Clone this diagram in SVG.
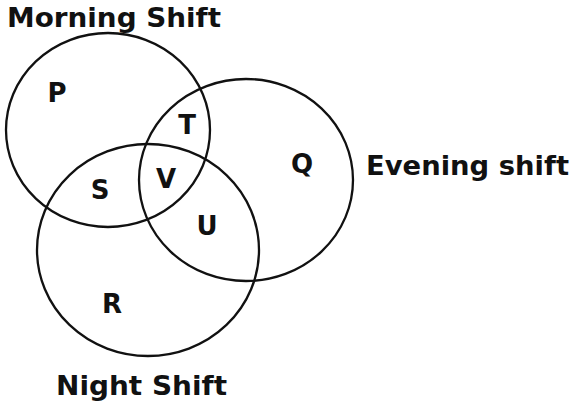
<svg xmlns="http://www.w3.org/2000/svg" width="576" height="408" viewBox="0 0 576 408">
<style>
.set{fill:none;stroke:#111;stroke-width:2.3}
.lbl{font-family:"DejaVu Sans",Verdana,sans-serif;font-weight:bold;fill:#111;font-size:27px}
.reg{font-family:"DejaVu Sans",Verdana,sans-serif;font-weight:bold;fill:#111;font-size:26px;text-anchor:middle}
</style>
<rect width="576" height="408" fill="#fff"/>
<g id="morning">
<ellipse class="set" cx="108" cy="130" rx="102" ry="97"/>
<text class="lbl" x="7" y="27" textLength="214" lengthAdjust="spacingAndGlyphs">Morning Shift</text>
</g>
<g id="evening">
<ellipse class="set" cx="246" cy="180" rx="107" ry="101"/>
<text class="lbl" x="366" y="175" textLength="203" lengthAdjust="spacingAndGlyphs">Evening shift</text>
</g>
<g id="night">
<ellipse class="set" cx="148" cy="250" rx="111" ry="106"/>
<text class="lbl" x="56" y="395" textLength="171" lengthAdjust="spacingAndGlyphs">Night Shift</text>
</g>
<g id="regions">
<text class="reg" x="57" y="102">P</text>
<text class="reg" x="302" y="173">Q</text>
<text class="reg" x="112" y="313">R</text>
<text class="reg" x="100" y="199">S</text>
<text class="reg" x="187" y="134">T</text>
<text class="reg" x="207" y="235">U</text>
<text class="reg" x="166" y="188">V</text>
</g>
<g id="connectors"/>
</svg>
